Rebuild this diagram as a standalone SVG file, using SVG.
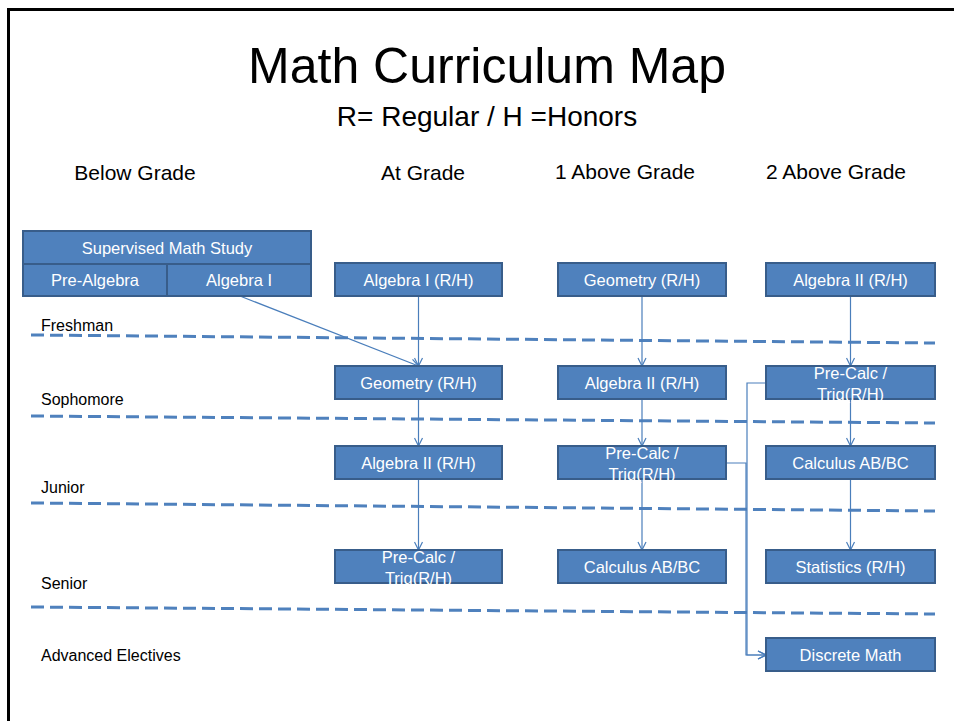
<svg xmlns="http://www.w3.org/2000/svg" width="954" height="721" viewBox="0 0 954 721">
<style>
.box{fill:#4F81BD;stroke:#385D8A;stroke-width:2}
.bt{font-family:"Liberation Sans",Arial,sans-serif;font-size:16.5px;fill:#FFFFFF;text-anchor:middle}
.h{font-family:"Liberation Sans",Arial,sans-serif;fill:#000;text-anchor:middle}
.lbl{font-family:"Liberation Sans",Arial,sans-serif;font-size:16px;fill:#000}
.dash{stroke:#4F81BD;stroke-width:3;stroke-dasharray:13 6;fill:none}
.con{stroke:#4A7EBB;stroke-width:1.2;fill:none}
</style>
<defs>
<marker id="arr" viewBox="0 0 10 10" refX="9" refY="5" markerWidth="10" markerHeight="10" markerUnits="userSpaceOnUse" orient="auto">
<path d="M1,1 L9,5 L1,9" fill="none" stroke="#4A7EBB" stroke-width="1.2"/>
</marker>
</defs>
<rect width="954" height="721" fill="#FFFFFF"/>
<path d="M8.5 721 V9.5 H954" fill="none" stroke="#000" stroke-width="3"/>
<text class="h" x="487" y="83" font-size="50">Math Curriculum Map</text>
<text class="h" x="487" y="126" font-size="28">R= Regular / H =Honors</text>
<text class="h" x="135" y="180" font-size="21">Below Grade</text>
<text class="h" x="423" y="180" font-size="21">At Grade</text>
<text class="h" x="625" y="179" font-size="21">1 Above Grade</text>
<text class="h" x="836" y="179" font-size="21">2 Above Grade</text>
<g id="grades">
<path class="dash" d="M31 335 L935 343"/>
<path class="dash" d="M31 416 L935 423"/>
<path class="dash" d="M31 503 L935 511"/>
<path class="dash" d="M31 607 L935 614"/>
<text class="lbl" x="41" y="331">Freshman</text>
<text class="lbl" x="41" y="405">Sophomore</text>
<text class="lbl" x="41" y="493">Junior</text>
<text class="lbl" x="41" y="589">Senior</text>
<text class="lbl" x="41" y="661">Advanced Electives</text>
</g>
<g id="connectors">
<path class="con" d="M240 296 L418.5 366" marker-end="url(#arr)"/>
<path class="con" d="M418.5 296 V366" marker-end="url(#arr)"/>
<path class="con" d="M418.5 399 V446" marker-end="url(#arr)"/>
<path class="con" d="M418.5 479 V550" marker-end="url(#arr)"/>
<path class="con" d="M642 296 V366" marker-end="url(#arr)"/>
<path class="con" d="M642 399 V446" marker-end="url(#arr)"/>
<path class="con" d="M642 479 V550" marker-end="url(#arr)"/>
<path class="con" d="M850.5 296 V366" marker-end="url(#arr)"/>
<path class="con" d="M850.5 399 V446" marker-end="url(#arr)"/>
<path class="con" d="M850.5 479 V550" marker-end="url(#arr)"/>
<path class="con" d="M766 383 H747 V655 H766" marker-end="url(#arr)"/>
<path class="con" d="M726 463 H746 V655 H766" marker-end="url(#arr)"/>
</g>
<g id="supervised">
<rect class="box" x="23" y="231" width="288" height="33"/>
<text class="bt" x="167" y="254">Supervised Math Study</text>
</g>
<g id="prealgebra">
<rect class="box" x="23" y="264" width="144" height="32"/>
<text class="bt" x="95" y="286">Pre-Algebra</text>
</g>
<g id="algebra1-below">
<rect class="box" x="167" y="264" width="144" height="32"/>
<text class="bt" x="239" y="286">Algebra I</text>
</g>
<g id="c2-alg1">
<rect class="box" x="335" y="263" width="167" height="33"/>
<text class="bt" x="418.5" y="285.5">Algebra I (R/H)</text>
</g>
<g id="c2-geo">
<rect class="box" x="335" y="366" width="167" height="33"/>
<text class="bt" x="418.5" y="388.5">Geometry (R/H)</text>
</g>
<g id="c2-alg2">
<rect class="box" x="335" y="446" width="167" height="33"/>
<text class="bt" x="418.5" y="468.5">Algebra II (R/H)</text>
</g>
<g id="c2-precalc">
<rect class="box" x="335" y="550" width="167" height="33"/>
<text class="bt" x="418.5" y="563">Pre-Calc /</text>
<text class="bt" x="418.5" y="584">Trig(R/H)</text>
</g>
<g id="c3-geo">
<rect class="box" x="558" y="263" width="168" height="33"/>
<text class="bt" x="642" y="285.5">Geometry (R/H)</text>
</g>
<g id="c3-alg2">
<rect class="box" x="558" y="366" width="168" height="33"/>
<text class="bt" x="642" y="388.5">Algebra II (R/H)</text>
</g>
<g id="c3-precalc">
<rect class="box" x="558" y="446" width="168" height="33"/>
<text class="bt" x="642" y="459">Pre-Calc /</text>
<text class="bt" x="642" y="480">Trig(R/H)</text>
</g>
<g id="c3-calc">
<rect class="box" x="558" y="550" width="168" height="33"/>
<text class="bt" x="642" y="572.5">Calculus AB/BC</text>
</g>
<g id="c4-alg2">
<rect class="box" x="766" y="263" width="169" height="33"/>
<text class="bt" x="850.5" y="285.5">Algebra II (R/H)</text>
</g>
<g id="c4-precalc">
<rect class="box" x="766" y="366" width="169" height="33"/>
<text class="bt" x="850.5" y="379">Pre-Calc /</text>
<text class="bt" x="850.5" y="400">Trig(R/H)</text>
</g>
<g id="c4-calc">
<rect class="box" x="766" y="446" width="169" height="33"/>
<text class="bt" x="850.5" y="468.5">Calculus AB/BC</text>
</g>
<g id="c4-stats">
<rect class="box" x="766" y="550" width="169" height="33"/>
<text class="bt" x="850.5" y="572.5">Statistics (R/H)</text>
</g>
<g id="c4-discrete">
<rect class="box" x="766" y="638" width="169" height="33"/>
<text class="bt" x="850.5" y="660.5">Discrete Math</text>
</g>
</svg>
